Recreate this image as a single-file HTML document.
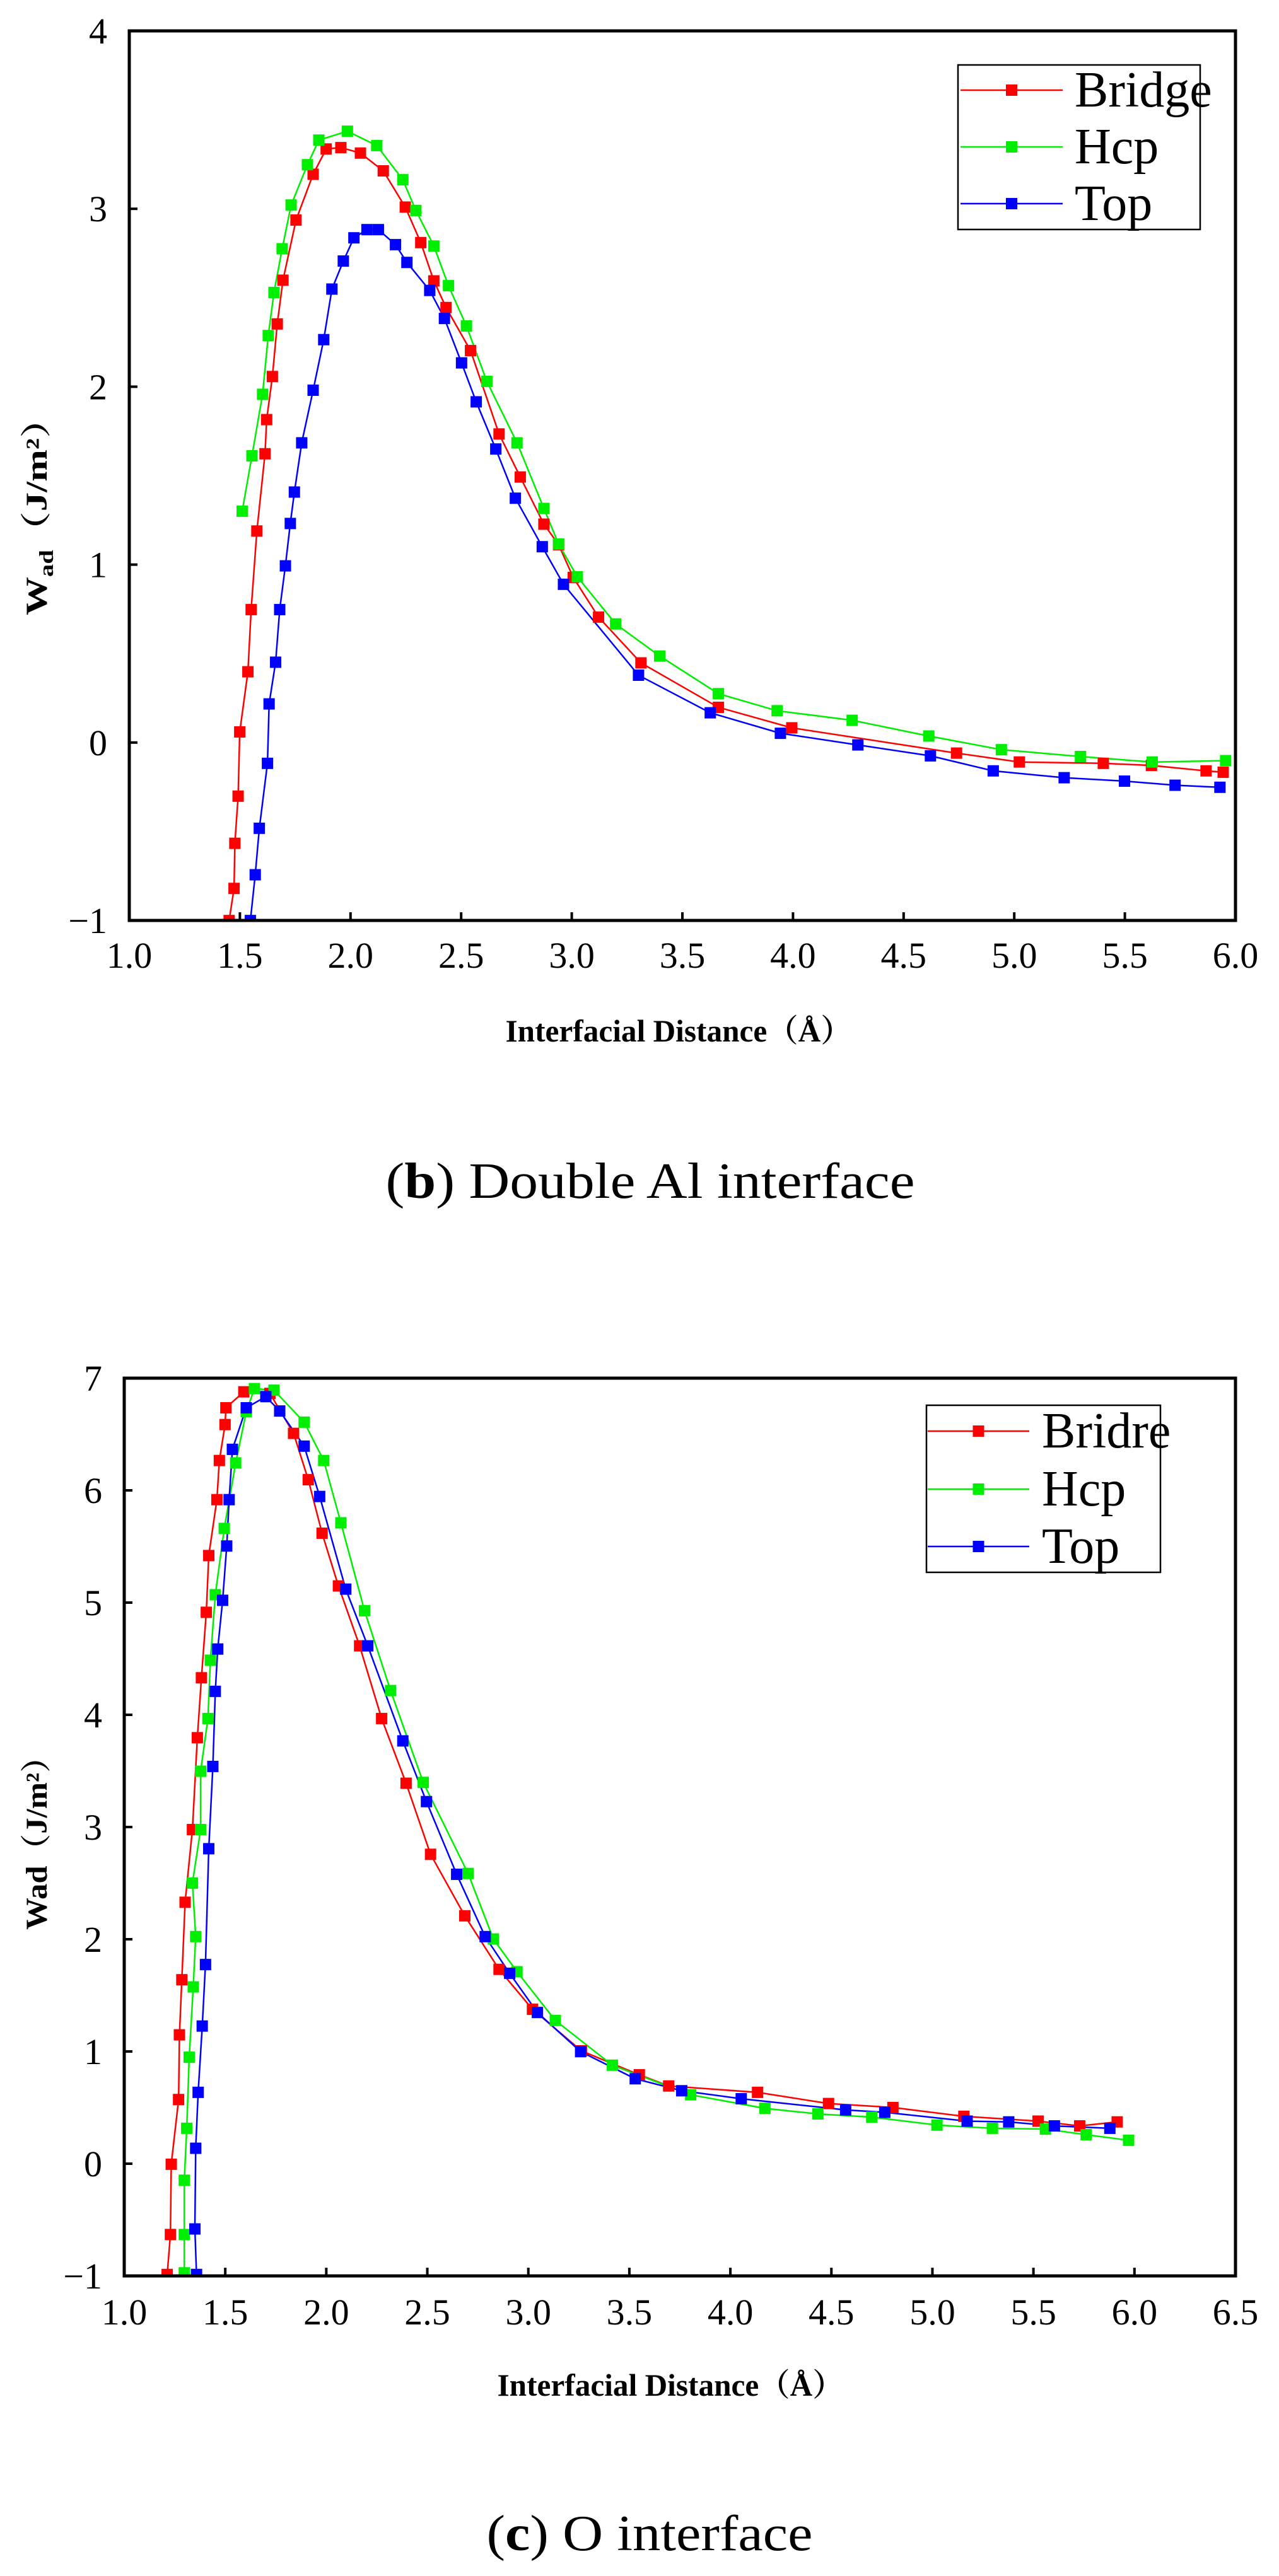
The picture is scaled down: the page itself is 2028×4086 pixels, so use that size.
<!DOCTYPE html>
<html><head><meta charset="utf-8"><style>
html,body{margin:0;padding:0;background:#fff;width:2028px;height:4086px;overflow:hidden}
svg{display:block}
text{font-family:"Liberation Serif","Noto Serif CJK SC",serif;fill:#000}
.b{font-weight:bold}
</style></head><body>
<svg id="s" width="2028" height="4086" viewBox="0 0 2028 4086" xmlns="http://www.w3.org/2000/svg" font-family="'Liberation Serif','Noto Serif CJK SC',serif">
<rect width="2028" height="4086" fill="#fff"/>
<g id="p1"></g><g id="p2"></g>
<text x="1076" y="1652" font-size="50" class="b" text-anchor="middle" textLength="549" lengthAdjust="spacingAndGlyphs">Interfacial Distance（Å）</text>
<text x="1031" y="1900" font-size="80" text-anchor="middle" textLength="839" lengthAdjust="spacingAndGlyphs">(<tspan font-weight="bold">b</tspan>) Double Al interface</text>
<text transform="translate(74,805) rotate(-90)" font-size="48" class="b" text-anchor="middle" textLength="342" lengthAdjust="spacingAndGlyphs">W<tspan font-size="32" dy="10">ad</tspan><tspan dy="-10">（J/m²）</tspan></text>
<text x="1063" y="3800" font-size="50" class="b" text-anchor="middle" textLength="549" lengthAdjust="spacingAndGlyphs">Interfacial Distance（Å）</text>
<text x="1030" y="4045" font-size="80" text-anchor="middle" textLength="517" lengthAdjust="spacingAndGlyphs">(<tspan font-weight="bold">c</tspan>) O interface</text>
<text transform="translate(74,2911) rotate(-90)" font-size="48" class="b" text-anchor="middle" textLength="300" lengthAdjust="spacingAndGlyphs">Wad（J/m²）</text>
</svg>
<script>
var NS="http://www.w3.org/2000/svg";
var FF="'Liberation Serif','Noto Serif CJK SC',serif";
function el(p,t,a,txt){var e=document.createElementNS(NS,t);for(var k in a)e.setAttribute(k,a[k]);if(t==="text")e.setAttribute("font-family",FF);if(txt!==undefined)e.textContent=txt;p.appendChild(e);return e;}
function plot(g,cfg){
  var L=cfg.L,R=cfg.R,T=cfg.T,B=cfg.B;
  var clip=el(g,"clipPath",{id:cfg.id+"c"});el(clip,"rect",{x:L,y:T,width:R-L,height:B-T});
  var dg=el(g,"g",{"clip-path":"url(#"+cfg.id+"c)"});
  var cols=["#ff0000","#00ee00","#0000ff"];
  cfg.series.forEach(function(s,i){
    var pts=s.map(function(p){return [p[0]*cfg.sx,cfg.oy+p[1]*cfg.sy];});
    el(dg,"polyline",{points:pts.map(function(p){return p[0].toFixed(1)+","+p[1].toFixed(1)}).join(" "),fill:"none",stroke:cols[i],"stroke-width":2.5});
  });
  cfg.series.forEach(function(s,i){
    s.forEach(function(p){var x=p[0]*cfg.sx,y=cfg.oy+p[1]*cfg.sy;el(dg,"rect",{x:x-9,y:y-9,width:18,height:18,fill:cols[i]});});
  });
  el(g,"rect",{x:L,y:T,width:R-L,height:B-T,fill:"none",stroke:"#000","stroke-width":5});
  cfg.xt.forEach(function(v,i){var x=L+(R-L)*i/(cfg.xt.length-1);
    if(i>0&&i<cfg.xt.length-1)el(g,"line",{x1:x,y1:B,x2:x,y2:B-13,stroke:"#000","stroke-width":4});
    el(g,"text",{x:x,y:B+cfg.xlo,"font-size":58,"text-anchor":"middle"},v);});
  cfg.yt.forEach(function(v,i){var y=B-(B-T)*i/(cfg.yt.length-1);
    if(i>0&&i<cfg.yt.length-1)el(g,"line",{x1:L,y1:y,x2:L+13,y2:y,stroke:"#000","stroke-width":4});
    el(g,"text",{x:L-35,y:y+20,"font-size":58,"text-anchor":"end"},v);});
  var lg=cfg.leg;
  el(g,"rect",{x:lg.x1,y:lg.y1,width:lg.x2-lg.x1,height:lg.y2-lg.y1,fill:"#fff",stroke:"#000","stroke-width":2.5});
  lg.names.forEach(function(n,i){var y=lg.ys[i];
    el(g,"line",{x1:lg.lx1,y1:y,x2:lg.lx2,y2:y,stroke:cols[i],"stroke-width":2.5});
    el(g,"rect",{x:(lg.lx1+lg.lx2)/2-9,y:y-9,width:18,height:18,fill:cols[i]});
    el(g,"text",{x:lg.tx,y:y+26,"font-size":lg.fs},n);});
}
var b1=[[281,1347],[287,1300],[288,1234],[292,1165],[294,1071],[304,983],[308,892],[315,777],[325,664],[327,614],[334,551],[340,474],[347,410],[363,322],[384,255],[400,218],[418,216],[442,224],[470,250],[497,303],[516,355],[532,411],[547,450],[577,513],[612,635],[638,698],[667,767],[685,797],[703,845],[734,903],[786,970],[881,1035],[971,1065],[1173,1102],[1250,1115],[1353,1117],[1412,1120],[1479,1128],[1500,1130]];
var h1=[[297,748],[309,667],[322,577],[329,491],[336,428],[346,364],[357,300],[377,241],[391,205],[426,192],[462,213],[494,263],[510,308],[532,360],[550,418],[572,477],[597,558],[634,648],[667,744],[685,796],[708,844],[755,913],[809,960],[881,1015],[953,1040],[1045,1054],[1139,1077],[1228,1097],[1325,1107],[1413,1115],[1503,1113]];
var t1=[[307,1347],[313,1280],[318,1212],[328,1117],[330,1030],[338,969],[343,892],[350,828],[356,766],[361,720],[370,648],[384,571],[397,497],[407,423],[421,382],[434,348],[450,336],[464,336],[485,358],[499,384],[527,425],[545,466],[566,531],[584,588],[608,657],[632,729],[665,800],[691,855],[783,988],[871,1043],[957,1073],[1052,1090],[1141,1106],[1218,1128],[1305,1138],[1379,1143],[1441,1149],[1496,1152]];
var b2=[[205,1190],[209,1140],[210,1052],[219,971],[220,890],[223,821],[227,724],[236,633],[242,518],[247,443],[253,361],[256,290],[266,220],[269,171],[276,126],[277,105],[299,85],[331,87],[360,137],[378,195],[395,262],[415,328],[441,403],[468,494],[498,575],[528,664],[570,741],[612,808],[653,858],[713,910],[784,940],[820,954],[929,962],[1016,976],[1095,981],[1182,992],[1273,998],[1324,1004],[1370,999]];
var h2=[[226,1188],[226,1140],[226,1072],[229,1007],[232,918],[237,830],[240,767],[236,700],[246,633],[246,560],[255,494],[258,421],[264,339],[275,256],[289,174],[302,110],[312,81],[336,83],[373,123],[397,171],[418,249],[447,359],[479,459],[519,574],[574,688],[605,770],[634,811],[681,872],[751,928],[847,965],[938,982],[1003,989],[1069,993],[1149,1003],[1217,1007],[1282,1008],[1332,1015],[1384,1022]];
var t2=[[241,1190],[239,1133],[240,1032],[243,962],[248,879],[252,802],[256,657],[261,554],[264,460],[267,407],[273,346],[278,278],[281,220],[285,157],[302,105],[326,91],[343,109],[373,153],[392,216],[424,332],[451,403],[494,522],[523,598],[560,689],[595,767],[625,813],[659,862],[712,911],[779,945],[836,960],[909,970],[1037,984],[1085,987],[1186,998],[1237,999],[1293,1004],[1361,1007]];
plot(document.getElementById("p1"),{id:"a",L:205,R:1959,T:49,B:1460,sx:1.293,sy:1.084,oy:0,series:[b1,h1,t1],
 xt:["1.0","1.5","2.0","2.5","3.0","3.5","4.0","4.5","5.0","5.5","6.0"],yt:["\u22121","0","1","2","3","4"],xlo:75,
 leg:{x1:1519,y1:103,x2:1903,y2:364,ys:[143,233,323],lx1:1523,lx2:1685,tx:1704,fs:80,names:["Bridge","Hcp","Top"]}});
plot(document.getElementById("p2"),{id:"b",L:197,R:1959,T:2186,B:3610,sx:1.293,sy:1.267,oy:2100,series:[b2,h2,t2],
 xt:["1.0","1.5","2.0","2.5","3.0","3.5","4.0","4.5","5.0","5.5","6.0","6.5"],yt:["\u22121","0","1","2","3","4","5","6","7"],xlo:77,
 leg:{x1:1469,y1:2229,x2:1840,y2:2494,ys:[2270,2362,2453],lx1:1471,lx2:1632,tx:1652,fs:80,names:["Bridre","Hcp","Top"]}});
</script>
</body></html>
